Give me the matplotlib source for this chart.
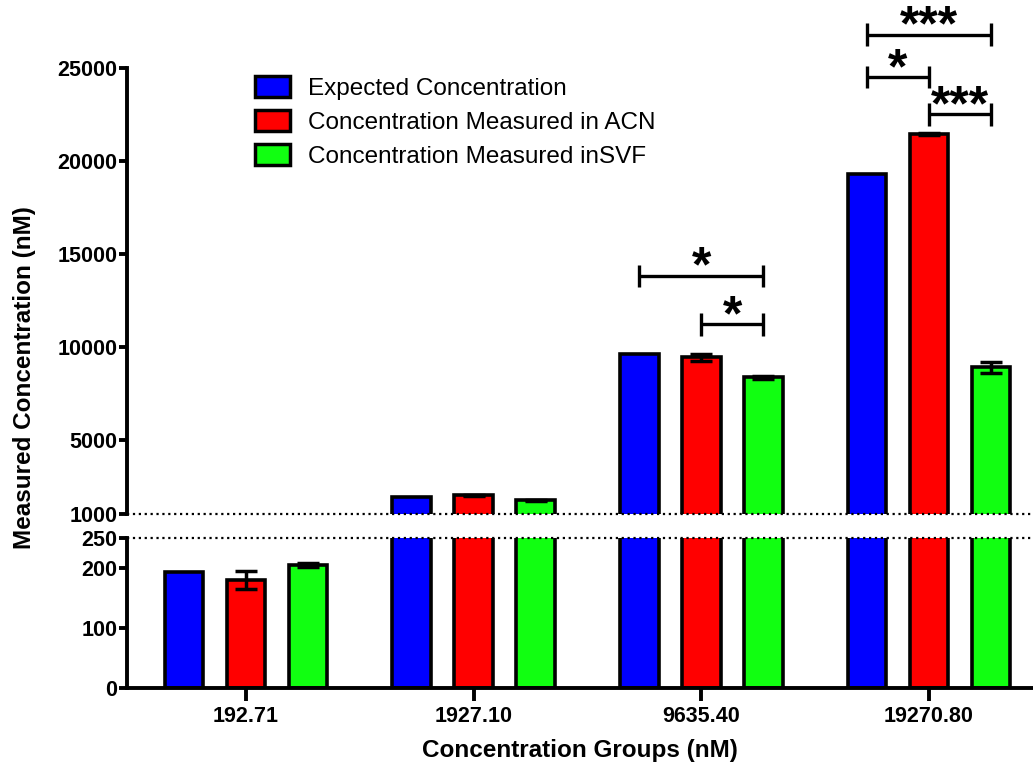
import numpy as np
from matplotlib import pyplot as plt
from matplotlib.patches import Patch

plt.rcParams['font.family'] = ['Liberation Sans', 'DejaVu Sans']

# Data
groups = ['192.71', '1927.10', '9635.40', '19270.80']
series = ['Expected Concentration', 'Concentration Measured in ACN', 'Concentration Measured inSVF']
colors = ['#0000FF', '#FF0000', '#11FF11']
expected = [192.71, 1927.10, 9635.40, 19270.80]
acn = [180, 2010, 9430, 21450]
acn_err = [15, 20, 180, 60]
svf = [205, 1740, 8350, 8900]
svf_err = [4, 40, 70, 300]
values = [expected, acn, svf]
errors = [None, acn_err, svf_err]

# significance brackets: (group, from series, to series, height, label)
brackets = [(2, 0, 2, 13800, '*'), (2, 1, 2, 11200, '*'),
            (3, 0, 2, 26800, '***'), (3, 0, 1, 24500, '*'), (3, 1, 2, 22500, '***')]

fig = plt.figure(figsize=(10.33, 7.67), dpi=100)
left = 127 / 1033
ax_top = fig.add_axes([left, 1 - 514 / 767, 1 - left, (514 - 68) / 767])
ax_bot = fig.add_axes([left, 1 - 688 / 767, 1 - left, (688 - 538) / 767])
ax_bot.set_zorder(3)

x = np.arange(len(groups))
offset = 0.272
width = 0.17

# same bars in both halves, each half clips to its own range
for ax in (ax_top, ax_bot):
    for i in range(3):
        ax.bar(x + (i - 1) * offset, values[i], width, color=colors[i],
               edgecolor='black', linewidth=2.6, zorder=2)
        if errors[i] is not None:
            ax.errorbar(x + (i - 1) * offset, values[i], yerr=errors[i], fmt='none',
                        ecolor='black', elinewidth=2.5, capsize=8, capthick=2.5, zorder=3)
    ax.set_xlim(-0.523, 3.457)
    for s in ('top', 'right'):
        ax.spines[s].set_visible(False)
    ax.spines['left'].set_linewidth(2.8)
    ax.tick_params(axis='y', length=6, width=2.8, pad=1, labelsize=15.5)

ax_top.set_ylim(1000, 25000)
ax_top.set_yticks([1000, 5000, 10000, 15000, 20000, 25000])
ax_top.spines['bottom'].set_visible(False)
ax_top.tick_params(axis='x', bottom=False, labelbottom=False)
ax_top.axhline(1000, color='black', linestyle=':', linewidth=1.6, zorder=5, clip_on=False)

ax_bot.set_ylim(0, 250)
ax_bot.set_yticks([0, 100, 200, 250])
ax_bot.spines['bottom'].set_linewidth(2.8)
ax_bot.set_xticks(x)
ax_bot.set_xticklabels(groups, fontsize=15.5, fontweight='bold')
ax_bot.tick_params(axis='x', length=9, width=2.8, pad=4)
ax_bot.axhline(250, color='black', linestyle=':', linewidth=1.6, zorder=5, clip_on=False)

for ax in (ax_top, ax_bot):
    for lab in ax.get_yticklabels():
        lab.set_fontweight('bold')

# significance brackets
h = 595
for g, a, b, y, label in brackets:
    x1 = g + (a - 1) * offset
    x2 = g + (b - 1) * offset
    kw = dict(color='black', linewidth=2.4, clip_on=False, solid_capstyle='butt')
    ax_top.plot([x1, x2], [y, y], **kw)
    ax_top.plot([x1, x1], [y - h, y + h], **kw)
    ax_top.plot([x2, x2], [y - h, y + h], **kw)
    ax_top.annotate(label, ((x1 + x2) / 2, y), xytext=(0, -4), textcoords='offset points',
                    ha='center', va='baseline', fontsize=36, fontweight='bold',
                    annotation_clip=False)

fig.text(25 / 1033, 1 - 378 / 767, 'Measured Concentration (nM)', rotation=90,
         ha='center', va='center', fontsize=17.5, fontweight='bold')
fig.text(580 / 1033, 1 - 750 / 767, 'Concentration Groups (nM)',
         ha='center', va='center', fontsize=17.5, fontweight='bold')

handles = [Patch(facecolor=c, edgecolor='black', linewidth=2.5) for c in colors]
fig.legend(handles, series, loc='upper left', bbox_to_anchor=(255 / 1033, 1 - 76 / 767),
           frameon=False, fontsize=17.5, handlelength=1.44, handleheight=0.95,
           handletextpad=0.74, labelspacing=0.42, borderpad=0, borderaxespad=0)

fig.savefig('out.png', dpi=100)
